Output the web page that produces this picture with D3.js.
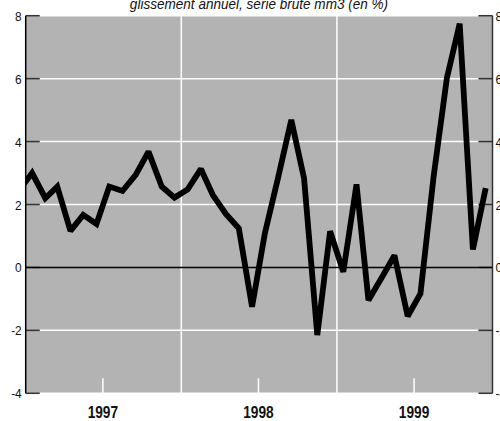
<!DOCTYPE html>
<html>
<head>
<meta charset="utf-8">
<script src="https://cdn.jsdelivr.net/npm/d3@7"></script>
<style>
  body { margin: 0; background: #fff; }
  svg { display: block; }
</style>
</head>
<body>
<div id="chart"></div>
<script>
const title = "glissement annuel, série brute mm3 (en %)";

const months = [
    "1996-12",
    "1997-01","1997-02","1997-03","1997-04","1997-05","1997-06",
    "1997-07","1997-08","1997-09","1997-10","1997-11","1997-12",
    "1998-01","1998-02","1998-03","1998-04","1998-05","1998-06",
    "1998-07","1998-08","1998-09","1998-10","1998-11","1998-12",
    "1999-01","1999-02","1999-03","1999-04","1999-05","1999-06",
    "1999-07","1999-08","1999-09","1999-10","1999-11","1999-12"
];

const values = [
    2.44,
    3.00, 2.20, 2.57, 1.16, 1.67, 1.38, 2.57, 2.43, 2.94, 3.68, 2.57, 2.22,
    2.48, 3.13, 2.30, 1.69, 1.24, -1.25, 1.08, 2.85, 4.69, 2.83, -2.15, 1.15,
    -0.14, 2.64, -1.04, -0.33, 0.38, -1.55, -0.83, 2.90, 6.02, 7.75, 0.57, 2.52
];

const years = ["1997", "1998", "1999"];
const yTicks = [-4, -2, 0, 2, 4, 6, 8];

const width = 500;
const height = 421;
const plotL = 25.7, plotR = 492.5, plotT = 15.7, plotB = 393.3;

const parse = d3.timeParse("%Y-%m");
const data = months.map((m, i) => ({ date: d3.timeDay.offset(parse(m), 15), value: values[i] }));

const svg = d3.select("#chart")
    .append("svg")
    .attr("width", width)
    .attr("height", height);

const x = d3.scaleTime()
    .domain([new Date(1997, 0, 1), new Date(2000, 0, 1)])
    .range([plotL, plotR]);

const y = d3.scaleLinear()
    .domain([-4, 8])
    .range([plotB, plotT]);

svg.append("rect")
    .attr("x", plotL).attr("y", plotT)
    .attr("width", plotR - plotL).attr("height", plotB - plotT)
    .attr("fill", "#b3b3b3");

// horizontal white grid
svg.selectAll(".hgrid")
    .data(yTicks.filter(d => d !== 0))
    .enter().append("line")
    .attr("x1", plotL + 14).attr("x2", plotR - 14)
    .attr("y1", d => y(d)).attr("y2", d => y(d))
    .attr("stroke", "#fff").attr("stroke-width", 1.5);

// vertical white lines at year boundaries
svg.selectAll(".vgrid")
    .data(years.slice(1))
    .enter().append("line")
    .attr("x1", d => x(new Date(+d, 0, 1))).attr("x2", d => x(new Date(+d, 0, 1)))
    .attr("y1", plotT).attr("y2", plotB)
    .attr("stroke", "#fff").attr("stroke-width", 1.5);

// mid-year ticks
svg.selectAll(".midtick")
    .data(years)
    .enter().append("line")
    .attr("x1", d => x(new Date(+d, 6, 1))).attr("x2", d => x(new Date(+d, 6, 1)))
    .attr("y1", plotB - 15).attr("y2", plotB)
    .attr("stroke", "#fff").attr("stroke-width", 1.5);

// axis ticks left and right
svg.selectAll(".ltick")
    .data(yTicks)
    .enter().append("line")
    .attr("x1", plotL).attr("x2", plotL + 14)
    .attr("y1", d => y(d)).attr("y2", d => y(d))
    .attr("stroke", "#333").attr("stroke-width", 1.5);

svg.selectAll(".rtick")
    .data(yTicks)
    .enter().append("line")
    .attr("x1", plotR - 14).attr("x2", plotR)
    .attr("y1", d => y(d)).attr("y2", d => y(d))
    .attr("stroke", "#333").attr("stroke-width", 1.5);

// zero line
svg.append("line")
    .attr("x1", plotL).attr("x2", plotR)
    .attr("y1", y(0)).attr("y2", y(0))
    .attr("stroke", "#000").attr("stroke-width", 1.5);

// axis lines
svg.append("line")
    .attr("x1", plotL).attr("x2", plotL)
    .attr("y1", plotT).attr("y2", plotB)
    .attr("stroke", "#000").attr("stroke-width", 1.5);
svg.append("line")
    .attr("x1", plotR).attr("x2", plotR)
    .attr("y1", plotT).attr("y2", plotB)
    .attr("stroke", "#333").attr("stroke-width", 1.5);

svg.append("clipPath").attr("id", "clip")
    .append("rect")
    .attr("x", plotL).attr("y", 0)
    .attr("width", plotR - plotL).attr("height", height);

const line = d3.line()
    .x(d => x(d.date))
    .y(d => y(d.value));

svg.append("path")
    .datum(data)
    .attr("clip-path", "url(#clip)")
    .attr("fill", "none")
    .attr("stroke", "#000")
    .attr("stroke-width", 5.8)
    .attr("stroke-linejoin", "miter")
    .attr("stroke-miterlimit", 2)
    .attr("d", line);

const font = "'Liberation Sans', Arial, sans-serif";

svg.selectAll(".llabel")
    .data(yTicks)
    .enter().append("text")
    .attr("transform", d => `translate(${plotL - 4},${y(d) + 5}) scale(0.88,1)`)
    .attr("text-anchor", "end")
    .style("font-family", font)
    .style("font-size", "13.5px")
    .style("fill", "#111")
    .text(d => d);

svg.selectAll(".rlabel")
    .data(yTicks)
    .enter().append("text")
    .attr("transform", d => `translate(${plotR + 3},${y(d) + 5}) scale(0.88,1)`)
    .attr("text-anchor", "start")
    .style("font-family", font)
    .style("font-size", "13.5px")
    .style("fill", "#111")
    .text(d => d);

svg.selectAll(".year")
    .data(years)
    .enter().append("text")
    .attr("transform", d => `translate(${x(new Date(+d, 6, 1))},418) scale(0.83,1)`)
    .attr("text-anchor", "middle")
    .style("font-family", font)
    .style("font-weight", "bold")
    .style("font-size", "16.5px")
    .style("fill", "#111")
    .text(d => d);

svg.append("text")
    .attr("transform", "translate(259,8.8) scale(0.88,1)")
    .attr("text-anchor", "middle")
    .style("font-family", font)
    .style("font-style", "italic")
    .style("font-size", "15.4px")
    .style("fill", "#111")
    .text(title);
</script>
</body>
</html>
